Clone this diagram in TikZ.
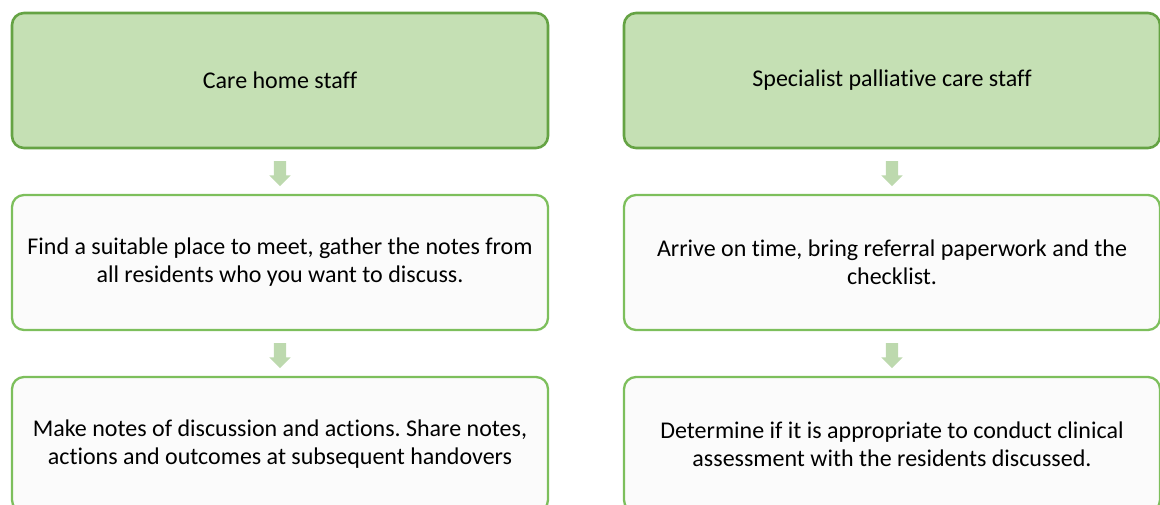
\documentclass[tikz,border=0pt]{standalone}
\usepackage{fontspec}
\setmainfont{Carlito}[Ligatures=CommonOff]
\frenchspacing
\usetikzlibrary{shapes.arrows}
\definecolor{headfill}{HTML}{C5E0B4}
\definecolor{headline}{HTML}{65A344}
\definecolor{stepline}{HTML}{7DBF5C}
\definecolor{stepfill}{HTML}{FBFBFB}
\definecolor{arrowfill}{HTML}{BDD9AE}
\tikzset{
    headbox/.style={draw=headline, fill=headfill, line width=2.6pt, rounded corners=12pt,
        minimum width=536pt, minimum height=135pt, align=center, font=\fontsize{24}{28}\selectfont},
    stepbox/.style={draw=stepline, fill=stepfill, line width=2.3pt, rounded corners=12pt,
        minimum width=536pt, minimum height=135pt, align=center, font=\fontsize{24}{28}\selectfont},
    downarrow/.style={single arrow, draw=none, fill=arrowfill, rotate=-90, inner sep=6pt,
        minimum height=25pt, minimum width=21pt, single arrow head extend=4.5pt}
}

\begin{document}
\begin{tikzpicture}[x=1pt, y=-1pt]
    \useasboundingbox (0,0) rectangle (1160,504);
    \clip (0,0) rectangle (1160,504);
    \node[headbox] (careA) at (280,80.5) {Care home staff};
    \node[stepbox] (careB) at (280,262.5) {Find a suitable place to meet, gather the notes from\\all residents who you want to discuss.};
    \node[stepbox] (careC) at (280,444.5) {Make notes of discussion and actions. Share notes,\\actions and outcomes at subsequent handovers};
    \node[headbox] (specA) at (892,80.5) {Specialist palliative care staff};
    \node[stepbox] (specB) at (892,262.5) {Arrive on time, bring referral paperwork and the\\checklist.};
    \node[stepbox] (specC) at (892,444.5) {Determine if it is appropriate to conduct clinical\\assessment with the residents discussed.};
    \node[downarrow] (careAB) at (280,170.5) {};
    \node[downarrow] (careBC) at (280,352.5) {};
    \node[downarrow] (specAB) at (892,170.5) {};
    \node[downarrow] (specBC) at (892,352.5) {};
\end{tikzpicture}
\end{document}
